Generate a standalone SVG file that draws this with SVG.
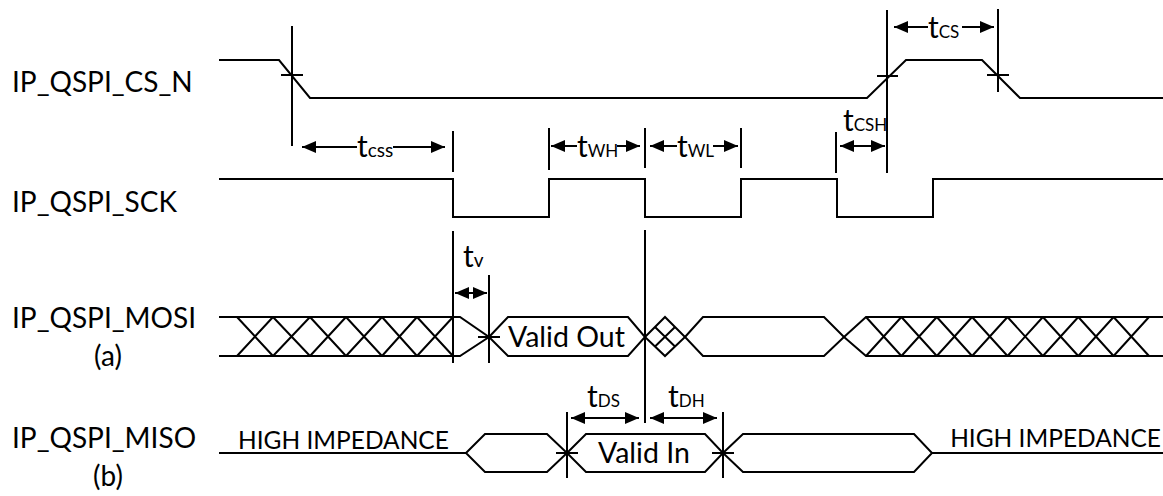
<svg xmlns="http://www.w3.org/2000/svg" width="1163" height="496" viewBox="0 0 1163 496">
<defs>
<style>
.w{fill:none;stroke:#000;stroke-width:2;stroke-linejoin:miter}
.r{fill:none;stroke:#000;stroke-width:2}
.a{fill:none;stroke:#000;stroke-width:2}
text{font-family:Lato,"Liberation Sans",sans-serif;fill:#000}
.lbl{font-size:28px}
.hi{font-size:24.5px}
.val{font-size:28.5px}
.big{font-size:30px}
.sub{font-size:17px}
.subl{font-size:19px}
</style>
<marker id="ah" markerUnits="userSpaceOnUse" markerWidth="14" markerHeight="12" refX="14" refY="6" orient="auto-start-reverse" viewBox="0 0 14 12">
<path d="M0,0 L14,6 L0,12 Z" fill="#000"/>
</marker>
</defs>
<rect width="1163" height="496" fill="#fff"/>

<g id="labels">
<text class="lbl" x="12" y="92">IP_QSPI_CS_N</text>
<text class="lbl" x="12" y="212">IP_QSPI_SCK</text>
<text class="lbl" x="12" y="328">IP_QSPI_MOSI</text>
<text class="lbl" x="108" y="366" text-anchor="middle">(a)</text>
<text class="lbl" x="12" y="448">IP_QSPI_MISO</text>
<text class="lbl" x="108" y="486" text-anchor="middle">(b)</text>
</g>

<g id="cs_n">
<polyline class="w" points="219,60 279,60 310,98 867,98 906,60 982,60 1020,98 1163,98"/>
</g>

<g id="sck">
<polyline class="w" points="219,179 453,179 453,217 549,217 549,179 645,179 645,217 741,217 741,179 837,179 837,217 933,217 933,179 1163,179"/>
</g>

<g id="mosi">
<polyline class="w" points="219,317 460,317 489,337 460,356 219,356"/>
<path class="w" d="M237,317 L273,356 M237,356 L273,317 M273,317 L310,356 M273,356 L310,317 M310,317 L346,356 M310,356 L346,317 M346,317 L382,356 M346,356 L382,317 M382,317 L417,356 M382,356 L417,317 M417,317 L453,356 M417,356 L453,317"/>
<polygon class="w" points="489,337 508,317 628,317 645,337 628,356 508,356"/>
<text class="val" x="508" y="347">Valid Out</text>
<polygon class="w" points="645,337 665,317 685,337 665,356"/>
<path class="w" d="M655,327 L675,346.5 M655,346.5 L675,327"/>
<polygon class="w" points="685,337 703,317 824,317 844,337 824,356 703,356"/>
<polyline class="w" points="1163,317 866,317 844,337 866,356 1163,356"/>
<path class="w" d="M866,317 L901.4,356 M866,356 L901.4,317 M901.4,317 L936.8,356 M901.4,356 L936.8,317 M936.8,317 L972.1,356 M936.8,356 L972.1,317 M972.1,317 L1007.5,356 M972.1,356 L1007.5,317 M1007.5,317 L1042.9,356 M1007.5,356 L1042.9,317 M1042.9,317 L1078.3,356 M1042.9,356 L1078.3,317 M1078.3,317 L1113.6,356 M1078.3,356 L1113.6,317 M1113.6,317 L1149,356 M1113.6,356 L1149,317"/>
</g>

<g id="miso">
<polyline class="w" points="219,453 466,453"/>
<text class="hi" x="238" y="449">HIGH IMPEDANCE</text>
<polygon class="w" points="466,453 485,434 547,434 567,453 547,472 485,472"/>
<polygon class="w" points="567,453 586,434 705,434 723,453 705,472 586,472"/>
<text class="val" x="598" y="463">Valid In</text>
<polygon class="w" points="723,453 743,434 914,434 932,453 914,472 743,472"/>
<polyline class="w" points="932,453 1163,453"/>
<text class="hi" x="1161" y="447" text-anchor="end">HIGH IMPEDANCE</text>
</g>

<g id="connectors">
<path class="r" d="M292,26 V146 M281,75 H303"/>
<path class="r" d="M453,131 V172 M453,231 V363"/>
<path class="r" d="M549,128 V170 M645,128 V168 M741,128 V168"/>
<path class="r" d="M645,230 V423"/>
<path class="r" d="M836,132 V173"/>
<path class="r" d="M887,10 V173 M877,76 H898"/>
<path class="r" d="M998,9 V92 M987,75 H1009"/>
<path class="r" d="M489,275 V363 M478,337 H500"/>
<path class="r" d="M567,412 V478 M556,453 H578"/>
<path class="r" d="M723,412 V478 M712,453 H734"/>

<line class="a" x1="357" y1="147" x2="302" y2="147" marker-end="url(#ah)"/>
<line class="a" x1="393" y1="147" x2="445" y2="147" marker-end="url(#ah)"/>
<line class="a" x1="577" y1="146" x2="551" y2="146" marker-end="url(#ah)"/>
<line class="a" x1="617" y1="146" x2="640" y2="146" marker-end="url(#ah)"/>
<line class="a" x1="677" y1="146" x2="650" y2="146" marker-end="url(#ah)"/>
<line class="a" x1="713" y1="146" x2="738" y2="146" marker-end="url(#ah)"/>
<line class="a" x1="928" y1="27" x2="894" y2="27" marker-end="url(#ah)"/>
<line class="a" x1="962" y1="27" x2="994" y2="27" marker-end="url(#ah)"/>
<line class="a" x1="840" y1="146" x2="885" y2="146" marker-start="url(#ah)" marker-end="url(#ah)"/>
<line class="a" x1="455" y1="293" x2="487" y2="293" marker-start="url(#ah)" marker-end="url(#ah)"/>
<line class="a" x1="571" y1="418" x2="639" y2="418" marker-start="url(#ah)" marker-end="url(#ah)"/>
<line class="a" x1="650" y1="418" x2="717" y2="418" marker-start="url(#ah)" marker-end="url(#ah)"/>
</g>

<g id="timing-labels">
<text x="357" y="157"><tspan class="big">t</tspan><tspan class="subl">css</tspan></text>
<text x="577" y="157"><tspan class="big">t</tspan><tspan class="sub">WH</tspan></text>
<text x="677" y="157"><tspan class="big">t</tspan><tspan class="sub">WL</tspan></text>
<text x="928" y="38"><tspan class="big">t</tspan><tspan class="sub">CS</tspan></text>
<text x="843" y="131"><tspan class="big">t</tspan><tspan class="sub">CSH</tspan></text>
<text x="463" y="267"><tspan class="big">t</tspan><tspan class="subl">v</tspan></text>
<text x="587" y="407"><tspan class="big">t</tspan><tspan class="sub">DS</tspan></text>
<text x="668" y="407"><tspan class="big">t</tspan><tspan class="sub">DH</tspan></text>
</g>
</svg>
